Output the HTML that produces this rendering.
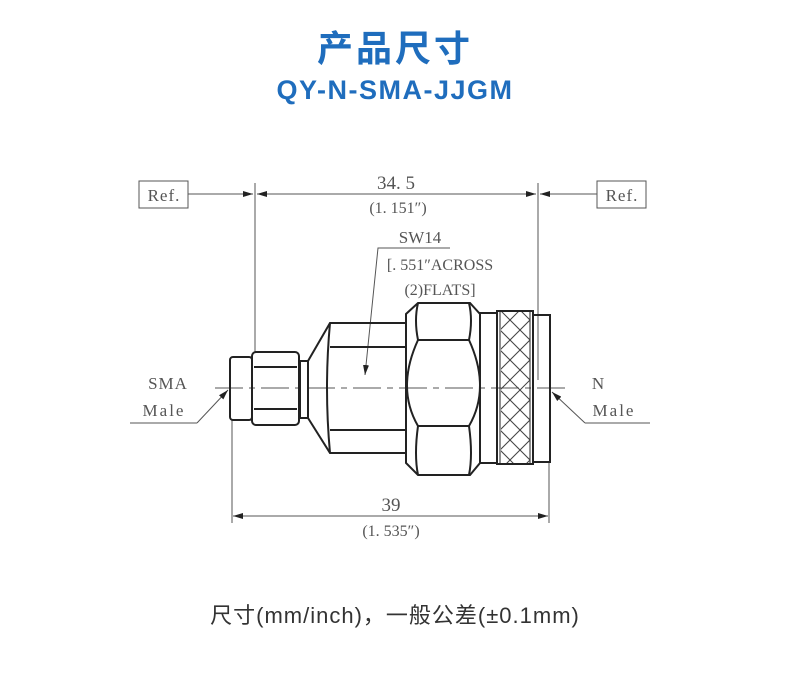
<!DOCTYPE html>
<html><head><meta charset="utf-8"><style>
body{margin:0;width:790px;height:696px;background:#fff;overflow:hidden;position:relative;font-family:"Liberation Sans","Noto Sans CJK SC",sans-serif}
.t{position:absolute;left:0;width:790px;text-align:center;color:#1f6dbd;font-weight:bold}
</style></head><body>
<div class="t" style="top:20px;font-size:36px;letter-spacing:3px">产品尺寸</div>
<div class="t" style="top:75px;font-size:27px;letter-spacing:1.5px">QY-N-SMA-JJGM</div>
<div style="position:absolute;top:598px;left:0;width:790px;text-align:center;font-size:22px;letter-spacing:1px;color:#333">尺寸(mm/inch)，一般公差(±0.1mm)</div>
<svg width="790" height="696" style="position:absolute;left:0;top:0" font-family="Liberation Serif,serif" fill="none" stroke="#333">
<defs><marker id="a" viewBox="0 0 10 6" refX="10" refY="3" markerWidth="10" markerHeight="6" orient="auto-start-reverse"><path d="M0,0L10,3L0,6z" fill="#222" stroke="none"/></marker></defs>
<g stroke-width="1" stroke="#555">
<rect x="139" y="181" width="49" height="27"/><rect x="597" y="181" width="49" height="27"/>
<line x1="188" y1="194" x2="253" y2="194" marker-end="url(#a)"/>
<line x1="257" y1="194" x2="536" y2="194" marker-start="url(#a)" marker-end="url(#a)"/>
<line x1="540" y1="194" x2="597" y2="194" marker-start="url(#a)"/>
<line x1="255" y1="183" x2="255" y2="352"/><line x1="538" y1="183" x2="538" y2="380"/>
<line x1="232" y1="420" x2="232" y2="523"/><line x1="549" y1="463" x2="549" y2="523"/>
<line x1="233" y1="516" x2="548" y2="516" marker-start="url(#a)" marker-end="url(#a)"/>
<polyline points="450,248 378,248 365,375" marker-end="url(#a)"/>
<line x1="130" y1="423" x2="197" y2="423"/><line x1="197" y1="423" x2="228" y2="390" marker-end="url(#a)"/>
<line x1="650" y1="423" x2="585" y2="423"/><line x1="585" y1="423" x2="552" y2="392" marker-end="url(#a)"/>
<line x1="215" y1="388" x2="565" y2="388" stroke-dasharray="28,6,6,6"/>
</g>
<g fill="#555" stroke="none" font-size="17" text-anchor="middle">
<text x="164" y="201" letter-spacing="1">Ref.</text><text x="622" y="201" letter-spacing="1">Ref.</text>
<text x="396" y="189" font-size="19">34. 5</text><text x="398" y="213" font-size="16">(1. 151″)</text>
<text x="420" y="243">SW14</text><text x="440" y="270" font-size="16">[. 551″ACROSS</text><text x="440" y="295" font-size="16">(2)FLATS]</text>
<text x="168" y="389" letter-spacing="1">SMA</text><text x="164" y="416" letter-spacing="2">Male</text>
<text x="598" y="389">N</text><text x="614" y="416" letter-spacing="2">Male</text>
<text x="391" y="511" font-size="19">39</text><text x="391" y="536" font-size="16">(1. 535″)</text>
</g>
<g stroke="#222" stroke-width="2">
<rect x="230" y="357" width="22" height="63" rx="3"/>
<rect x="252" y="352" width="47" height="73" rx="4"/>
<line x1="254" y1="367" x2="297" y2="367"/><line x1="254" y1="409" x2="297" y2="409"/>
<rect x="300" y="361" width="8" height="57"/>
<polyline points="308,361 330,323 406,323"/><polyline points="308,418 330,453 406,453"/>
<path d="M330,323 Q324,388 330,453"/>
<line x1="330" y1="347" x2="406" y2="347"/><line x1="330" y1="430" x2="406" y2="430"/>
<path d="M418,303 L470,303 L480,314 L480,463 L470,475 L418,475 L406,463 L406,314 Z"/>
<line x1="418" y1="340" x2="469" y2="340"/><line x1="418" y1="426" x2="469" y2="426"/>
<path d="M418,303 Q414,320 418,340 M469,303 Q473,320 469,340 M418,475 Q414,455 418,426 M469,475 Q473,455 469,426"/>
<path d="M418,340 Q396,388 418,426 M469,340 Q491,388 469,426"/>
<rect x="480" y="313" width="17" height="150"/>
<rect x="497" y="311" width="36" height="153"/>
<line x1="500" y1="311" x2="500" y2="464" stroke-width="1"/><line x1="530" y1="311" x2="530" y2="464" stroke-width="1"/>
<rect x="533" y="315" width="17" height="147"/>
</g>
<clipPath id="k"><rect x="501" y="312" width="29" height="151"/></clipPath>
<g clip-path="url(#k)" stroke="#444" stroke-width="1">
<path d="M470,300 l80,80 M470,320 l80,80 M470,340 l80,80 M470,360 l80,80 M470,380 l80,80 M470,400 l80,80 M470,280 l80,80 M470,260 l80,80 M470,420 l80,80 M470,440 l80,80 M470,460 l80,80"/>
<path d="M560,250 l-80,80 M560,270 l-80,80 M560,290 l-80,80 M560,310 l-80,80 M560,330 l-80,80 M560,350 l-80,80 M560,370 l-80,80 M560,390 l-80,80 M560,410 l-80,80 M560,430 l-80,80 M560,450 l-80,80"/>
</g>
</svg>
</body></html>
